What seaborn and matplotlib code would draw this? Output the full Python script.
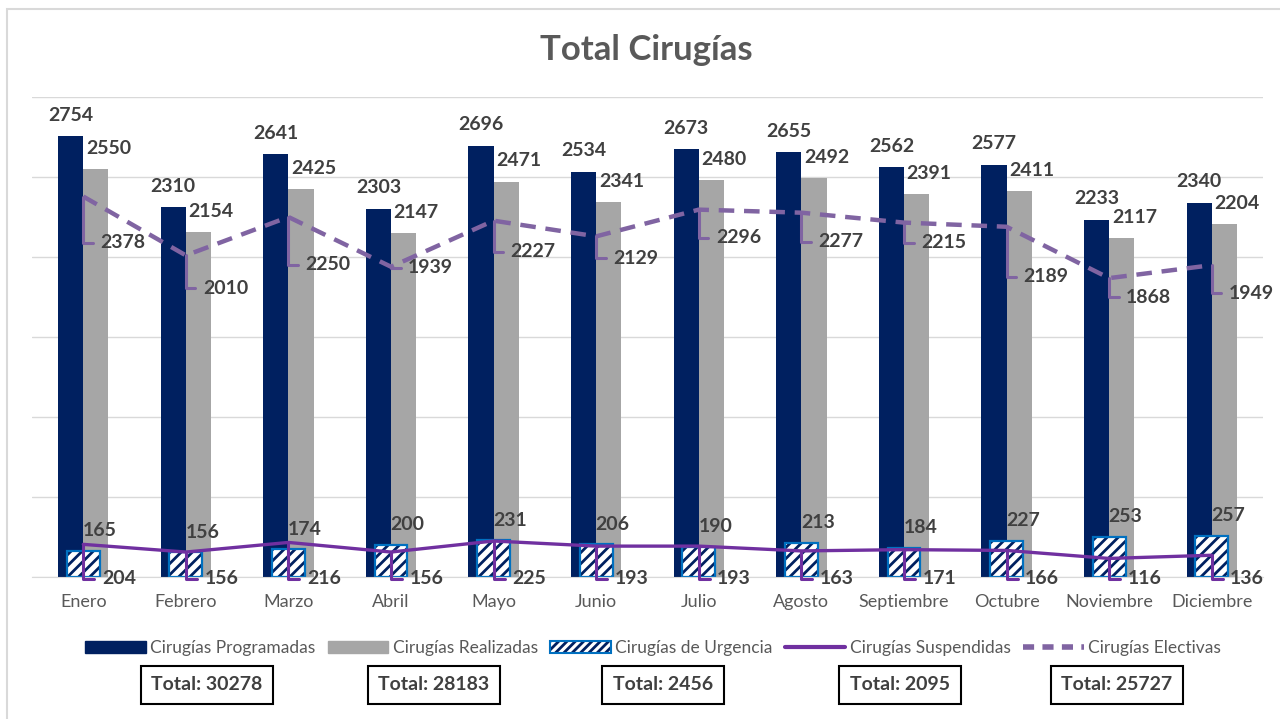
import numpy as np
import pandas as pd
import seaborn as sns
import matplotlib.pyplot as plt
from matplotlib.patches import Patch, Rectangle
from matplotlib.lines import Line2D

meses = ['Enero', 'Febrero', 'Marzo', 'Abril', 'Mayo', 'Junio', 'Julio',
         'Agosto', 'Septiembre', 'Octubre', 'Noviembre', 'Diciembre']
programadas = [2754, 2310, 2641, 2303, 2696, 2534, 2673, 2655, 2562, 2577, 2233, 2340]
realizadas = [2550, 2154, 2425, 2147, 2471, 2341, 2480, 2492, 2391, 2411, 2117, 2204]
urgencia = [165, 156, 174, 200, 231, 206, 190, 213, 184, 227, 253, 257]
suspendidas = [204, 156, 216, 156, 225, 193, 193, 163, 171, 166, 116, 136]
electivas = [2378, 2010, 2250, 1939, 2227, 2129, 2296, 2277, 2215, 2189, 1868, 1949]
series = ['Cirugías Programadas', 'Cirugías Realizadas', 'Cirugías de Urgencia',
          'Cirugías Suspendidas', 'Cirugías Electivas']

# label offsets (pixels) for the electivas callouts
elec_dy = [46, 33, 48, 1, 31, 22, 28, 29, 20, 50, 19, 28]

NAVY = '#002060'
GRAY = '#A6A6A6'
BLUE = '#0070C0'
PURPLE = '#7030A0'
LILAC = '#8064A2'
TXT = '#404040'

sns.set_style('white')
plt.rcParams['font.family'] = ['Lato', 'DejaVu Sans']
plt.rcParams['hatch.linewidth'] = 2.0

fig = plt.figure(figsize=(12.8, 7.19), dpi=100)
ax = fig.add_axes([32 / 1280, 142 / 719, 1231 / 1280, 480 / 719])

df = pd.DataFrame({'mes': meses * 2,
                   'serie': [series[0]] * 12 + [series[1]] * 12,
                   'valor': programadas + realizadas})
sns.barplot(data=df, x='mes', y='valor', hue='serie', palette=[NAVY, GRAY],
            width=0.49, saturation=1, errorbar=None, legend=False, ax=ax, linewidth=0)

n0 = len(ax.patches)
sns.barplot(x=meses, y=urgencia, color='white', width=0.32, saturation=1,
            errorbar=None, ax=ax, linewidth=0)
for p in ax.patches[n0:]:
    p.set_edgecolor(NAVY)
    p.set_hatch('///')
sns.barplot(x=meses, y=urgencia, color=BLUE, fill=False, width=0.32,
            errorbar=None, ax=ax, linewidth=1.6)

x = np.arange(len(meses))
sns.lineplot(x=x, y=suspendidas, color=PURPLE, lw=2.4, ax=ax)
sns.lineplot(x=x, y=electivas, color=LILAC, lw=3.2, ax=ax)
ax.lines[-1].set_dashes([3.5, 2.2])

FS = 14
lab = dict(ha='center', va='center', fontsize=FS, fontweight='bold', color=TXT,
           textcoords='offset pixels', annotation_clip=False)
for i in range(len(meses)):
    ax.annotate(str(programadas[i]), xy=(i - 0.1225, programadas[i]), xytext=(0, 21), **lab)
    ax.annotate(str(realizadas[i]), xy=(i + 0.245, realizadas[i]), xytext=(0, 21), **lab)
    ax.annotate(str(urgencia[i]), xy=(i + 0.16, urgencia[i]), xytext=(0, 20), **lab)
    ax.annotate(str(electivas[i]), xy=(i, electivas[i]), xytext=(17, -elec_dy[i]),
                textcoords='offset pixels', ha='left', va='center', fontsize=FS,
                fontweight='bold', color=TXT, annotation_clip=False,
                arrowprops=dict(arrowstyle='-', color=LILAC, lw=2.2, relpos=(0, 0.5),
                                shrinkA=3, shrinkB=0,
                                connectionstyle='angle,angleA=0,angleB=90,rad=0'))
    ax.annotate(str(suspendidas[i]), xy=(i, suspendidas[i]), xytext=(i + 0.18, -12),
                textcoords='data', ha='left', va='center', fontsize=FS,
                fontweight='bold', color=TXT, annotation_clip=False,
                arrowprops=dict(arrowstyle='-', color=PURPLE, lw=2.2, relpos=(0, 0.5),
                                shrinkA=3, shrinkB=0,
                                connectionstyle='angle,angleA=0,angleB=90,rad=0'))

ax.set_xlim(-0.5, 11.5)
ax.set_ylim(0, 3000)
ax.set_yticks(range(0, 3001, 500))
ax.set_yticklabels([])
ax.yaxis.grid(True, color='#D9D9D9', lw=1)
ax.set_axisbelow(True)
ax.set_xticks(x, meses)
ax.tick_params(axis='x', length=0, pad=12, labelsize=13, labelcolor='#595959')
ax.tick_params(axis='y', length=0)
ax.set_xlabel('')
ax.set_ylabel('')
for s in ['left', 'right', 'top']:
    ax.spines[s].set_visible(False)
ax.spines['bottom'].set_color('#D9D9D9')

fig.text(646 / 1280, 1 - 50 / 719, 'Total Cirugías', ha='center', va='center',
         fontsize=25, fontweight='bold', color='#595959')

handles = [Patch(color=NAVY), Patch(color=GRAY),
           (Patch(facecolor='white', edgecolor=NAVY, hatch='////', lw=0),
            Patch(fill=False, edgecolor=BLUE, lw=1.5)),
           Line2D([], [], color=PURPLE, lw=3),
           Line2D([], [], color=LILAC, lw=4, dashes=[2, 1.5])]
fig.legend(handles, series, loc='center', bbox_to_anchor=(653 / 1280, 1 - 648 / 719),
           ncol=5, frameon=False, fontsize=12.5, labelcolor='#595959',
           handlelength=3.5, handleheight=0.7, handletextpad=0.25, columnspacing=0.7)

totals = [sum(programadas), sum(realizadas), sum(urgencia), sum(suspendidas), sum(electivas)]
box_x = [207, 434, 663, 900, 1117]
for bx, t in zip(box_x, totals):
    fig.text(bx / 1280, 1 - 685 / 719, f'Total: {t}', ha='center', va='center',
             fontsize=14, fontweight='bold', color=TXT,
             bbox=dict(boxstyle='square,pad=0.55', facecolor='white', edgecolor='black', lw=1.5))

fig.patches.append(Rectangle((7 / 1280, -0.05), 1.1, 1.05 - 9 / 719, fill=False,
                             edgecolor='#D9D9D9', lw=1.5, transform=fig.transFigure))

fig.savefig('out.png', dpi=100, facecolor='white')
